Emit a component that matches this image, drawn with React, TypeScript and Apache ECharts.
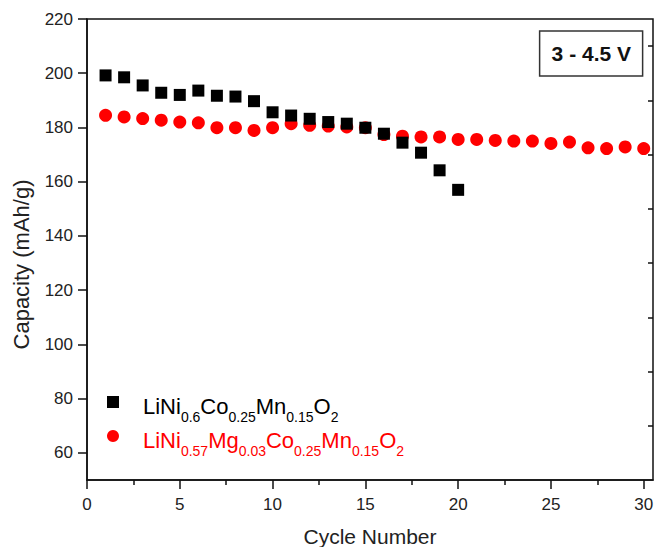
import React, { useEffect, useRef } from 'react';
import * as echarts from 'echarts';

// ---- data ----
const cyclesUndoped = [1, 2, 3, 4, 5, 6, 7, 8, 9, 10, 11, 12, 13, 14, 15, 16, 17, 18, 19, 20];
const capacityUndoped = [199.2, 198.5, 195.5, 192.8, 192.0, 193.6, 191.7, 191.4, 189.7, 185.6, 184.4, 183.2, 182.0, 181.4, 179.9, 177.7, 174.4, 170.7, 164.2, 157.0];

const cyclesDoped = [1, 2, 3, 4, 5, 6, 7, 8, 9, 10, 11, 12, 13, 14, 15, 16, 17, 18, 19, 20, 21, 22, 23, 24, 25, 26, 27, 28, 29, 30];
const capacityDoped = [184.5, 183.9, 183.3, 182.7, 182.0, 181.7, 179.9, 179.9, 178.9, 179.9, 181.4, 180.8, 180.5, 180.2, 179.9, 177.4, 176.8, 176.5, 176.5, 175.6, 175.6, 175.2, 175.0, 175.0, 174.1, 174.6, 172.5, 172.2, 172.8, 172.2];

const xMajorTicks = [0, 5, 10, 15, 20, 25, 30];
const xMinorTicks = [2.5, 7.5, 12.5, 17.5, 22.5, 27.5];
const yMajorTicks = [60, 80, 100, 120, 140, 160, 180, 200, 220];
const yMinorTicks = [70, 90, 110, 130, 150, 170, 190, 210];

const nameUndoped = 'LiNi0.6Co0.25Mn0.15O2';
const nameDoped = 'LiNi0.57Mg0.03Co0.25Mn0.15O2';
const richUndoped = '{sp|}{m|LiNi}{s|0.6}{m|Co}{s|0.25}{m|Mn}{s|0.15}{m|O}{s|2}';
const richDoped = '{sp|}{mr|LiNi}{sr|0.57}{mr|Mg}{sr|0.03}{mr|Co}{sr|0.25}{mr|Mn}{sr|0.15}{mr|O}{sr|2}';

const FONT = "'Liberation Sans', Arial, Helvetica, sans-serif";
const AXIS_COLOR = '#111';
const RED = '#ff0000';

export default function App() {
  const ref = useRef<HTMLDivElement>(null);

  useEffect(() => {
    document.body.style.margin = '0';
    document.body.style.overflow = 'hidden';
    if (!ref.current) return;
    const chart = echarts.init(ref.current, undefined, { renderer: 'svg' });

    const gridLeft = 87;
    const gridRight = 3;
    const gridTop = 19;
    const gridBottom = 67;
    const gridW = 656 - gridLeft - gridRight;
    const gridH = 547 - gridTop - gridBottom;

    const labels: Record<string, string> = {
      [nameUndoped]: richUndoped,
      [nameDoped]: richDoped,
    };

    chart.setOption({
      animation: false,
      textStyle: { fontFamily: FONT },
      title: {
        text: '3 - 4.5 V',
        right: 13,
        top: 31,
        padding: [12, 12, 12, 12],
        borderColor: '#333',
        borderWidth: 1.5,
        textStyle: { fontSize: 21, fontWeight: 'bold', color: '#111', fontFamily: FONT },
      },
      legend: {
        orient: 'vertical',
        left: 107,
        top: 391,
        padding: 0,
        itemGap: 1,
        itemWidth: 12,
        itemHeight: 12,
        selectedMode: false,
        data: [
          { name: nameUndoped, textStyle: { color: '#000' } },
          { name: nameDoped, textStyle: { color: RED } },
        ],
        formatter: (name: string) => labels[name] || name,
        textStyle: {
          fontFamily: FONT,
          rich: {
            sp: { width: 19, lineHeight: 14, verticalAlign: 'top' },
            m: { fontSize: 22, lineHeight: 22, verticalAlign: 'top', padding: [4, 0, 0, 0], color: '#000', fontFamily: FONT },
            s: { fontSize: 14, lineHeight: 14, verticalAlign: 'top', padding: [19, 0, 0, 0], color: '#000', fontFamily: FONT },
            mr: { fontSize: 22, lineHeight: 22, verticalAlign: 'top', padding: [4, 0, 0, 0], color: RED, fontFamily: FONT },
            sr: { fontSize: 14, lineHeight: 14, verticalAlign: 'top', padding: [19, 0, 0, 0], color: RED, fontFamily: FONT },
          },
        },
      },
      grid: {
        left: gridLeft,
        right: gridRight,
        top: gridTop,
        bottom: gridBottom,
        show: true,
        borderColor: AXIS_COLOR,
        borderWidth: 1.5,
        containLabel: false,
        outerBoundsMode: 'none',
      },
      xAxis: [
        {
          type: 'value',
          min: 0,
          max: 30.5,
          position: 'bottom',
          name: 'Cycle Number',
          nameLocation: 'middle',
          nameGap: 46,
          nameTextStyle: { fontSize: 21, color: '#222', fontFamily: FONT },
          axisLine: { show: true, lineStyle: { color: AXIS_COLOR, width: 1.5 } },
          axisTick: { show: true, inside: false, length: 9, customValues: xMajorTicks, lineStyle: { color: AXIS_COLOR, width: 1.5 } },
          axisLabel: { show: true, customValues: xMajorTicks, fontSize: 17, color: '#222', margin: 16, fontFamily: FONT },
          splitLine: { show: false },
        },
        {
          type: 'value',
          min: 0,
          max: 30.5,
          position: 'top',
          offset: -gridH,
          axisLine: { show: false },
          axisTick: { show: true, inside: true, length: 5, customValues: xMinorTicks, lineStyle: { color: AXIS_COLOR, width: 1.5 } },
          axisLabel: { show: false },
          splitLine: { show: false },
        },
      ],
      yAxis: [
        {
          type: 'value',
          min: 50,
          max: 220,
          position: 'left',
          name: 'Capacity (mAh/g)',
          nameLocation: 'middle',
          nameGap: 55,
          nameRotate: 90,
          nameTextStyle: { fontSize: 22, color: '#222', fontFamily: FONT, padding: [0, 30, 0, 0] },
          axisLine: { show: true, lineStyle: { color: AXIS_COLOR, width: 1.5 } },
          axisTick: { show: true, inside: false, length: 9, customValues: yMajorTicks, lineStyle: { color: AXIS_COLOR, width: 1.5 } },
          axisLabel: { show: true, customValues: yMajorTicks, fontSize: 17, color: '#222', margin: 14, fontFamily: FONT },
          splitLine: { show: false },
        },
        {
          type: 'value',
          min: 50,
          max: 220,
          position: 'right',
          offset: -gridW,
          axisLine: { show: false },
          axisTick: { show: true, inside: true, length: 5, customValues: yMinorTicks, lineStyle: { color: AXIS_COLOR, width: 1.5 } },
          axisLabel: { show: false },
          splitLine: { show: false },
        },
      ],
      series: [
        {
          name: nameUndoped,
          type: 'scatter',
          xAxisIndex: 0,
          yAxisIndex: 0,
          symbol: 'rect',
          symbolSize: 12,
          z: 3,
          itemStyle: { color: '#000', opacity: 1 },
          data: cyclesUndoped.map((c, i) => [c, capacityUndoped[i]]),
        },
        {
          name: nameDoped,
          type: 'scatter',
          xAxisIndex: 0,
          yAxisIndex: 0,
          symbol: 'circle',
          symbolSize: 13,
          z: 2,
          itemStyle: { color: RED, opacity: 1 },
          data: cyclesDoped.map((c, i) => [c, capacityDoped[i]]),
        },
      ],
    });

    return () => chart.dispose();
  }, []);

  return <div ref={ref} style={{ width: 656, height: 547 }} />;
}
